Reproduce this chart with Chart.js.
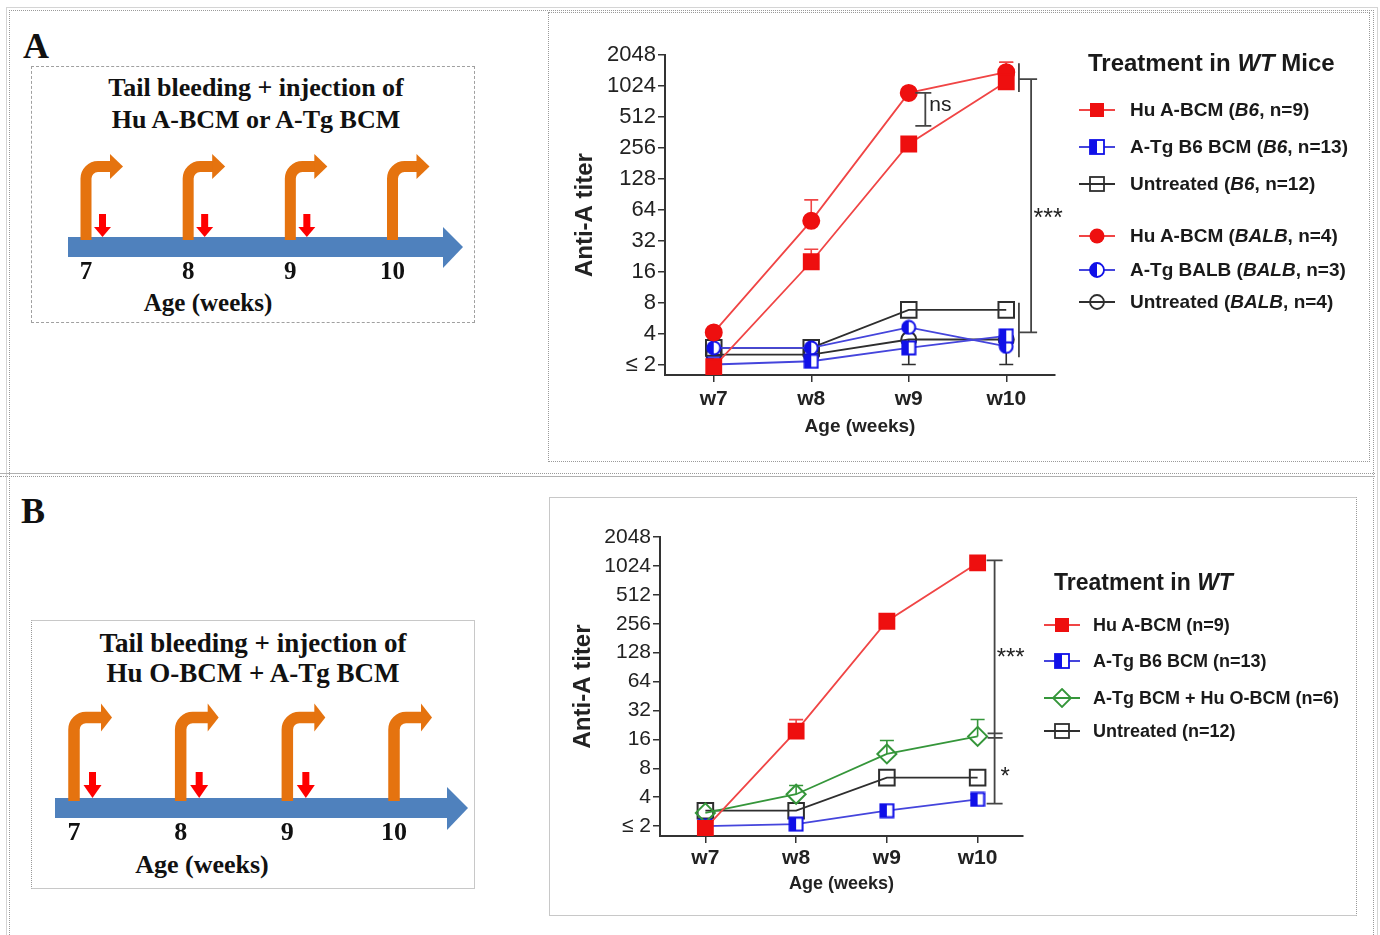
<!DOCTYPE html>
<html>
<head>
<meta charset="utf-8">
<script src="https://cdn.jsdelivr.net/npm/chart.js@4.4.1/dist/chart.umd.min.js"></script>
<style>
body { margin: 0; background: #fff; width: 1380px; height: 935px; position: relative; overflow: hidden; font-family: 'Liberation Sans', Arial, sans-serif; color: #1a1a1a; }
.abs { position: absolute; }
.serif { font-family: 'Liberation Serif', 'Times New Roman', serif; font-weight: bold; color: #111; }
.ttl { text-align: center; white-space: nowrap; }
.leg { font-weight: bold; white-space: nowrap; }
.row { position: absolute; height: 22px; line-height: 22px; white-space: nowrap; font-weight: bold; }
.row svg { position: absolute; left: 0; top: 1px; }
canvas { position: absolute; }
</style>
</head>
<body>
<!-- frames -->
<div class="abs" style="left:6px;top:7px;width:1370px;height:940px;border:1px solid #d4d4d4;border-bottom:none"></div>
<div class="abs" style="left:9px;top:10px;width:1363px;height:940px;border:1px dotted #9a9a9a;border-bottom:none"></div>
<div class="abs" style="left:0;top:473px;width:500px;height:0;border-top:1px solid #b0b0b0"></div>
<div class="abs" style="left:0;top:476px;width:500px;height:0;border-top:1px dotted #999"></div>
<div class="abs" style="left:500px;top:473px;width:875px;height:0;border-top:1px dotted #999"></div>
<div class="abs" style="left:500px;top:476px;width:875px;height:0;border-top:1px solid #b0b0b0"></div>
<div class="abs" style="left:548px;top:12px;width:820px;height:448px;border:1px dotted #9a9a9a"></div>
<div class="abs" style="left:549px;top:497px;width:806px;height:417px;border:1px solid #c8c8c8;border-right:1px dotted #999"></div>
<div class="abs" style="left:31px;top:66px;width:442px;height:255px;border:1px dashed #a0a0a0"></div>
<div class="abs" style="left:31px;top:620px;width:442px;height:267px;border:1px solid #c8c8c8;border-left:1px dotted #999"></div>

<div class="abs serif" style="left:23px;top:28px;font-size:36px;line-height:36px">A</div>
<div class="abs serif" style="left:21px;top:493px;font-size:36px;line-height:36px">B</div>

<!-- schematic texts -->
<div class="abs serif ttl" style="left:31px;width:450px;top:73px;font-size:26px;line-height:30px">Tail bleeding + injection of</div>
<div class="abs serif ttl" style="left:31px;width:450px;top:105px;font-size:26px;line-height:30px">Hu A-BCM or A-Tg BCM</div>
<div class="abs serif ttl" style="left:108px;width:200px;top:288px;font-size:25px;line-height:30px">Age (weeks)</div>
<div class="abs serif ttl" style="left:28px;width:450px;top:628px;font-size:27px;line-height:30px">Tail bleeding + injection of</div>
<div class="abs serif ttl" style="left:28px;width:450px;top:658px;font-size:27px;line-height:30px">Hu O-BCM + A-Tg BCM</div>
<div class="abs serif ttl" style="left:102px;width:200px;top:850px;font-size:26px;line-height:30px">Age (weeks)</div>

<canvas id="schemA" width="443" height="256" style="left:31px;top:66px"></canvas>
<canvas id="schemB" width="443" height="268" style="left:31px;top:620px"></canvas>
<canvas id="chartA" width="533" height="410" style="left:567px;top:40px"></canvas>
<canvas id="chartB" width="500" height="390" style="left:565px;top:520px"></canvas>

<div class="abs leg" style="left:1088px;top:48px;font-size:24px;line-height:30px">Treatment in <i>WT</i> Mice</div>
<div class="abs leg" style="left:1054px;top:567px;font-size:23px;line-height:30px">Treatment in <i>WT</i></div>
<div id="legA"></div>
<div id="legB"></div>

<script>
// x positions and labels
const weekNums = [7, 8, 9, 10];
const weekLabels = ['w7', 'w8', 'w9', 'w10'];
const titerTicks = [2, 4, 8, 16, 32, 64, 128, 256, 512, 1024, 2048];

// schematic: bleeding every week, injection after weeks 7-9
const bleedWeeks = [7, 8, 9, 10];
const injectWeeks = [7, 8, 9];

// panel A titers
const aHuB6 = [1.9, 20, 280, 1130];
const aHuB6Hi = [null, 26.5, null, 1750];
const aTgB6 = [2, 2.15, 2.9, 3.8];
const aUntB6 = [2.9, 2.9, 6.8, 6.8];
const aHuBalb = [4.1, 50, 880, 1400];
const aHuBalbHi = [null, 80, null, 1750];
const aTgBalb = [2.9, 2.9, 4.6, 3.0];
const aUntBalb = [2.5, 2.5, 3.5, 3.5];
const aUntBalbLo = [null, null, 2, 2];

// panel B titers
const bHu = [1.9, 19.5, 272, 1100];
const bHuHi = [null, 25.7, null, null];
const bTgB6 = [2, 2.1, 2.9, 3.8];
const bTgB6Hi = [null, null, null, 4.3];
const bCombo = [2.75, 4.3, 11.3, 17.2];
const bComboHi = [null, 5.3, 15.6, 25.8];
const bUnt = [2.9, 2.9, 6.4, 6.4];

const aLabels = ['Hu A-BCM (<i>B6</i>, n=9)', 'A-Tg B6 BCM (<i>B6</i>, n=13)', 'Untreated (<i>B6</i>, n=12)',
                 'Hu A-BCM (<i>BALB</i>, n=4)', 'A-Tg BALB (<i>BALB</i>, n=3)', 'Untreated (<i>BALB</i>, n=4)'];
const bLabels = ['Hu A-BCM (n=9)', 'A-Tg B6 BCM (n=13)', 'A-Tg BCM + Hu O-BCM (n=6)', 'Untreated (n=12)'];

Chart.defaults.font.family = "'Liberation Sans', Arial, sans-serif";
Chart.defaults.color = '#222';

const RED = '#ee0f0f', REDLINE = '#f04545';
const BLUE = '#1010e8', BLUELINE = '#4545dc';
const BLACK = '#2e2e2e', GREEN = '#35963a';

function halfMark(shape, color, size) {
    const c = document.createElement('canvas');
    c.width = size; c.height = size;
    const g = c.getContext('2d');
    const m = 1.5;
    g.lineWidth = 2;
    g.strokeStyle = color;
    g.beginPath();
    if (shape === 'rect') g.rect(m, m, size - 2 * m, size - 2 * m);
    else g.arc(size / 2, size / 2, size / 2 - m, 0, Math.PI * 2);
    g.fillStyle = '#fff';
    g.fill();
    g.save();
    g.clip();
    g.fillStyle = color;
    g.fillRect(0, 0, size / 2, size);
    g.restore();
    g.stroke();
    return c;
}

function toDataset(s) {
    let style = s.mark, radius = 8, bg = s.color;
    if (s.mark === 'rect') { radius = 10.5; }
    if (s.mark === 'circle') { radius = 8; }
    if (s.mark === 'openRect') { style = 'rect'; radius = 11; bg = 'rgba(255,255,255,0)'; }
    if (s.mark === 'openCircle') { style = 'circle'; radius = 7.5; bg = 'rgba(255,255,255,0)'; }
    if (s.mark === 'diamond') { style = 'rectRot'; radius = 9.5; bg = 'rgba(255,255,255,0)'; }
    if (s.mark === 'halfRect') { style = halfMark('rect', s.color, 16); }
    if (s.mark === 'halfCircle') { style = halfMark('circle', s.color, 16); }
    return {
        label: s.label,
        data: weekNums.map((w, i) => ({ x: w, y: s.data[i] })),
        showLine: true,
        borderColor: s.line,
        borderWidth: 1.8,
        pointStyle: style,
        pointRadius: radius,
        pointHoverRadius: radius,
        pointBackgroundColor: bg,
        pointBorderColor: s.color,
        pointBorderWidth: 2,
        errHi: s.hi,
        errLo: s.lo,
    };
}

// error bars, drawn under the markers
const errorBars = {
    id: 'errorBars',
    beforeDatasetsDraw(chart) {
        const ctx = chart.ctx, y = chart.scales.y;
        chart.data.datasets.forEach((ds, i) => {
            const meta = chart.getDatasetMeta(i);
            [ds.errHi, ds.errLo].forEach(arr => {
                if (!arr) return;
                arr.forEach((v, j) => {
                    if (v == null) return;
                    const p = meta.data[j];
                    const ye = y.getPixelForValue(v);
                    ctx.save();
                    ctx.strokeStyle = ds.borderColor;
                    ctx.lineWidth = 1.6;
                    ctx.beginPath();
                    ctx.moveTo(p.x, p.y); ctx.lineTo(p.x, ye);
                    ctx.moveTo(p.x - 7, ye); ctx.lineTo(p.x + 7, ye);
                    ctx.stroke();
                    ctx.restore();
                });
            });
        });
    }
};

// significance brackets and stars
function sigMarks(items) {
    return {
        id: 'sigMarks',
        afterDatasetsDraw(chart) {
            const { ctx, scales: { x, y } } = chart;
            ctx.save();
            ctx.strokeStyle = '#444';
            ctx.fillStyle = '#222';
            ctx.lineWidth = 1.8;
            items.forEach(it => {
                const px = x.getPixelForValue(it.x);
                if (it.text) {
                    ctx.font = it.font;
                    ctx.textAlign = 'left';
                    ctx.textBaseline = 'middle';
                    ctx.fillText(it.text, px, y.getPixelForValue(it.y) + (it.dy || 0));
                    return;
                }
                ctx.beginPath();
                if (it.ticks) {
                    it.ticks.forEach(d => {
                        const yy = y.getPixelForValue(it.y) + d;
                        ctx.moveTo(px - it.caps[0], yy); ctx.lineTo(px + it.caps[1], yy);
                    });
                } else {
                    const y1 = y.getPixelForValue(it.y1), y2 = y.getPixelForValue(it.y2);
                    ctx.moveTo(px, y1); ctx.lineTo(px, y2);
                    if (it.caps) {
                        [y1, y2].forEach(yy => { ctx.moveTo(px - it.caps[0], yy); ctx.lineTo(px + it.caps[1], yy); });
                    }
                }
                ctx.stroke();
            });
            ctx.restore();
        }
    };
}

function titerChart(id, series, marks, g) {
    return new Chart(document.getElementById(id), {
        type: 'scatter',
        data: { datasets: series.map(toDataset) },
        plugins: [errorBars, sigMarks(marks)],
        options: {
            responsive: false,
            animation: false,
            devicePixelRatio: 1,
            layout: { padding: g.pad },
            plugins: { legend: { display: false }, tooltip: { enabled: false } },
            scales: {
                x: {
                    type: 'linear', min: 6.5, max: 10.5,
                    afterBuildTicks: s => { s.ticks = weekNums.map(v => ({ value: v })); },
                    afterFit: s => { s.height = g.xh; },
                    ticks: {
                        autoSkip: false, padding: g.xpad, color: '#222',
                        font: { size: 21, weight: 'bold' },
                        callback: v => weekLabels[weekNums.indexOf(v)],
                    },
                    grid: { drawOnChartArea: false, tickLength: 7, color: '#333', lineWidth: 1.5 },
                    border: { color: '#333', width: 2 },
                    title: { display: true, text: 'Age (weeks)', color: '#222', font: { size: g.xt, weight: 'bold' } },
                },
                y: {
                    type: 'logarithmic', min: 1.58, max: 2048,
                    afterBuildTicks: s => { s.ticks = titerTicks.map(v => ({ value: v })); },
                    afterFit: s => { s.width = g.yw; },
                    ticks: {
                        autoSkip: false, padding: 2, color: '#222',
                        font: { size: g.yf },
                        callback: v => (v === 2 ? '\u2264 2' : String(v)),
                    },
                    grid: { drawOnChartArea: false, tickLength: 7, color: '#333', lineWidth: 1.5 },
                    border: { color: '#333', width: 2 },
                    title: { display: true, text: 'Anti-A titer', color: '#222', font: { size: 24, weight: 'bold' } },
                },
            },
        },
    });
}

const seriesA = [
    { label: aLabels[0], data: aHuB6, color: RED, line: REDLINE, mark: 'rect', hi: aHuB6Hi },
    { label: aLabels[3], data: aHuBalb, color: RED, line: REDLINE, mark: 'circle', hi: aHuBalbHi },
    { label: aLabels[1], data: aTgB6, color: BLUE, line: BLUELINE, mark: 'halfRect' },
    { label: aLabels[4], data: aTgBalb, color: BLUE, line: BLUELINE, mark: 'halfCircle' },
    { label: aLabels[2], data: aUntB6, color: BLACK, line: BLACK, mark: 'openRect' },
    { label: aLabels[5], data: aUntBalb, color: BLACK, line: BLACK, mark: 'openCircle', lo: aUntBalbLo },
];
const seriesB = [
    { label: bLabels[0], data: bHu, color: RED, line: REDLINE, mark: 'rect', hi: bHuHi },
    { label: bLabels[2], data: bCombo, color: GREEN, line: GREEN, mark: 'diamond', hi: bComboHi },
    { label: bLabels[1], data: bTgB6, color: BLUE, line: BLUELINE, mark: 'halfRect', hi: bTgB6Hi },
    { label: bLabels[3], data: bUnt, color: BLACK, line: BLACK, mark: 'openRect' },
];

titerChart('chartA', seriesA, [
    { x: 9.17, y1: 880, y2: 420, caps: [10, 6] },
    { x: 9.21, y: 670, text: 'ns', font: '21px "Liberation Sans"' },
    { x: 10.13, y1: 1710, y2: 897 },
    { x: 10.13, y1: 8, y2: 2.35 },
    { x: 10.255, y1: 1200, y2: 4.1, caps: [12, 6] },
    { x: 10.28, y: 60, text: '***', font: '25px "Liberation Sans"', dy: 6 },
], { pad: { left: 0, top: 15, right: 45, bottom: 8 }, xh: 67, xpad: 5, xt: 19, yw: 98, yf: 22 });

titerChart('chartB', seriesB, [
    { x: 10.187, y1: 1170, y2: 3.43, caps: [8, 8] },
    { x: 10.187, y: 17.6, ticks: [-2, 2.5], caps: [7, 8] },
    { x: 10.21, y: 128, text: '***', font: '24px "Liberation Sans"', dy: 6 },
    { x: 10.253, y: 7.5, text: '*', font: '24px "Liberation Sans"', dy: 6 },
], { pad: { left: 0, top: 17, right: 42, bottom: 11 }, xh: 63, xpad: 3, xt: 18, yw: 95, yf: 21 });

// timeline schematics
function timeline(p) {
    return {
        id: 'timeline',
        afterDraw(chart) {
            const { ctx, scales: { x } } = chart;
            ctx.save();
            // blue time arrow
            ctx.fillStyle = '#4f81bd';
            ctx.fillRect(p.barX0, p.barY, p.headBase - p.barX0, p.barH);
            ctx.beginPath();
            ctx.moveTo(p.headBase, p.headY0);
            ctx.lineTo(p.headTip, p.barY + p.barH / 2);
            ctx.lineTo(p.headBase, p.headY1);
            ctx.closePath();
            ctx.fill();
            // orange bent arrows (bleeding)
            bleedWeeks.forEach(w => {
                const cx = x.getPixelForValue(w);
                ctx.strokeStyle = '#e5730f';
                ctx.fillStyle = '#e5730f';
                ctx.lineWidth = p.stemW;
                ctx.beginPath();
                ctx.moveTo(cx, p.barY + 3);
                ctx.lineTo(cx, p.armY + 12);
                ctx.arcTo(cx, p.armY, cx + 12, p.armY, 12);
                ctx.lineTo(cx + p.armBase + 1, p.armY);
                ctx.stroke();
                ctx.beginPath();
                ctx.moveTo(cx + p.armBase, p.armY - p.armHalf);
                ctx.lineTo(cx + p.armTip, p.armY);
                ctx.lineTo(cx + p.armBase, p.armY + p.armHalf);
                ctx.closePath();
                ctx.fill();
            });
            // red arrows (injection)
            injectWeeks.forEach(w => {
                const cx = x.getPixelForValue(w) + p.redDx;
                ctx.fillStyle = '#ff0000';
                ctx.fillRect(cx - 3.5, p.redY0, 7, p.redY1 - p.redY0 + 1);
                ctx.beginPath();
                ctx.moveTo(cx - p.redHalf, p.redY1);
                ctx.lineTo(cx + p.redHalf, p.redY1);
                ctx.lineTo(cx, p.barY);
                ctx.closePath();
                ctx.fill();
            });
            // week numbers
            ctx.fillStyle = '#111';
            ctx.font = 'bold ' + p.numFont + 'px "Liberation Serif"';
            ctx.textAlign = 'center';
            ctx.textBaseline = 'middle';
            weekNums.forEach(w => ctx.fillText(String(w), x.getPixelForValue(w), p.numY));
            ctx.restore();
        }
    };
}

function schematic(id, xmin, xmax, p) {
    const el = document.getElementById(id);
    return new Chart(el, {
        type: 'scatter',
        data: { datasets: [] },
        plugins: [timeline(p)],
        options: {
            responsive: false,
            animation: false,
            devicePixelRatio: 1,
            layout: { padding: 0 },
            plugins: { legend: { display: false }, tooltip: { enabled: false } },
            scales: {
                x: { type: 'linear', min: xmin, max: xmax, display: false },
                y: { type: 'linear', min: 0, max: el.height, reverse: true, display: false },
            },
        },
    });
}

schematic('schemA', 6.4617, 10.7976, {
    barX0: 37, barY: 171, barH: 20, headBase: 412, headTip: 432, headY0: 161, headY1: 202,
    stemW: 11, armY: 100.5, armBase: 24, armTip: 37, armHalf: 12.5,
    redDx: 16.5, redY0: 148, redY1: 161, redHalf: 8.5, numY: 207, numFont: 25,
});
schematic('schemB', 6.5969, 10.7499, {
    barX0: 24, barY: 178, barH: 20, headBase: 416, headTip: 437, headY0: 167, headY1: 210,
    stemW: 11.5, armY: 97.5, armBase: 27, armTip: 38, armHalf: 14,
    redDx: 18.5, redY0: 152, redY1: 165, redHalf: 9, numY: 213, numFont: 26,
});

// html legends with small marker icons
function icon(mark, color, line) {
    let m = '';
    if (mark === 'rect') m = `<rect x="11" y="3" width="14" height="14" fill="${color}"/>`;
    if (mark === 'circle') m = `<circle cx="18" cy="10" r="7.5" fill="${color}"/>`;
    if (mark === 'openRect') m = `<rect x="11" y="3" width="14" height="14" fill="none" stroke="${color}" stroke-width="1.8"/>`;
    if (mark === 'openCircle') m = `<circle cx="18" cy="10" r="7" fill="none" stroke="${color}" stroke-width="1.8"/>`;
    if (mark === 'halfRect') m = `<rect x="11" y="3" width="14" height="14" fill="#fff" stroke="${color}" stroke-width="1.8"/><rect x="11" y="3" width="7" height="14" fill="${color}"/>`;
    if (mark === 'halfCircle') m = `<circle cx="18" cy="10" r="7" fill="#fff" stroke="${color}" stroke-width="1.8"/><path d="M18 3 A7 7 0 0 0 18 17 Z" fill="${color}"/>`;
    if (mark === 'diamond') m = `<polygon points="18,1 27,10 18,19 9,10" fill="none" stroke="${color}" stroke-width="1.8"/>`;
    const under = (mark === 'openRect' || mark === 'openCircle' || mark === 'diamond');
    const ln = `<line x1="0" y1="10" x2="36" y2="10" stroke="${line}" stroke-width="1.8"/>`;
    return `<svg width="36" height="20">${under ? '' : ln}${m}${under ? ln : ''}</svg>`;
}

function legend(elId, items, rowsY, left, textLeft, size) {
    const el = document.getElementById(elId);
    items.forEach((s, i) => {
        const r = document.createElement('div');
        r.className = 'row';
        r.style.left = left + 'px';
        r.style.top = (rowsY[i] - 11) + 'px';
        r.style.fontSize = size + 'px';
        r.innerHTML = icon(s.mark, s.color, s.line) + `<span style="position:absolute;left:${textLeft}px">${s.label}</span>`;
        el.appendChild(r);
    });
}

legend('legA', [seriesA[0], seriesA[2], seriesA[4], seriesA[1], seriesA[3], seriesA[5]],
    [110, 147, 184, 236, 270, 302], 1079, 51, 19);
legend('legB', [seriesB[0], seriesB[2], seriesB[1], seriesB[3]],
    [625, 661, 698, 731], 1044, 49, 18);
</script>
</body>
</html>
